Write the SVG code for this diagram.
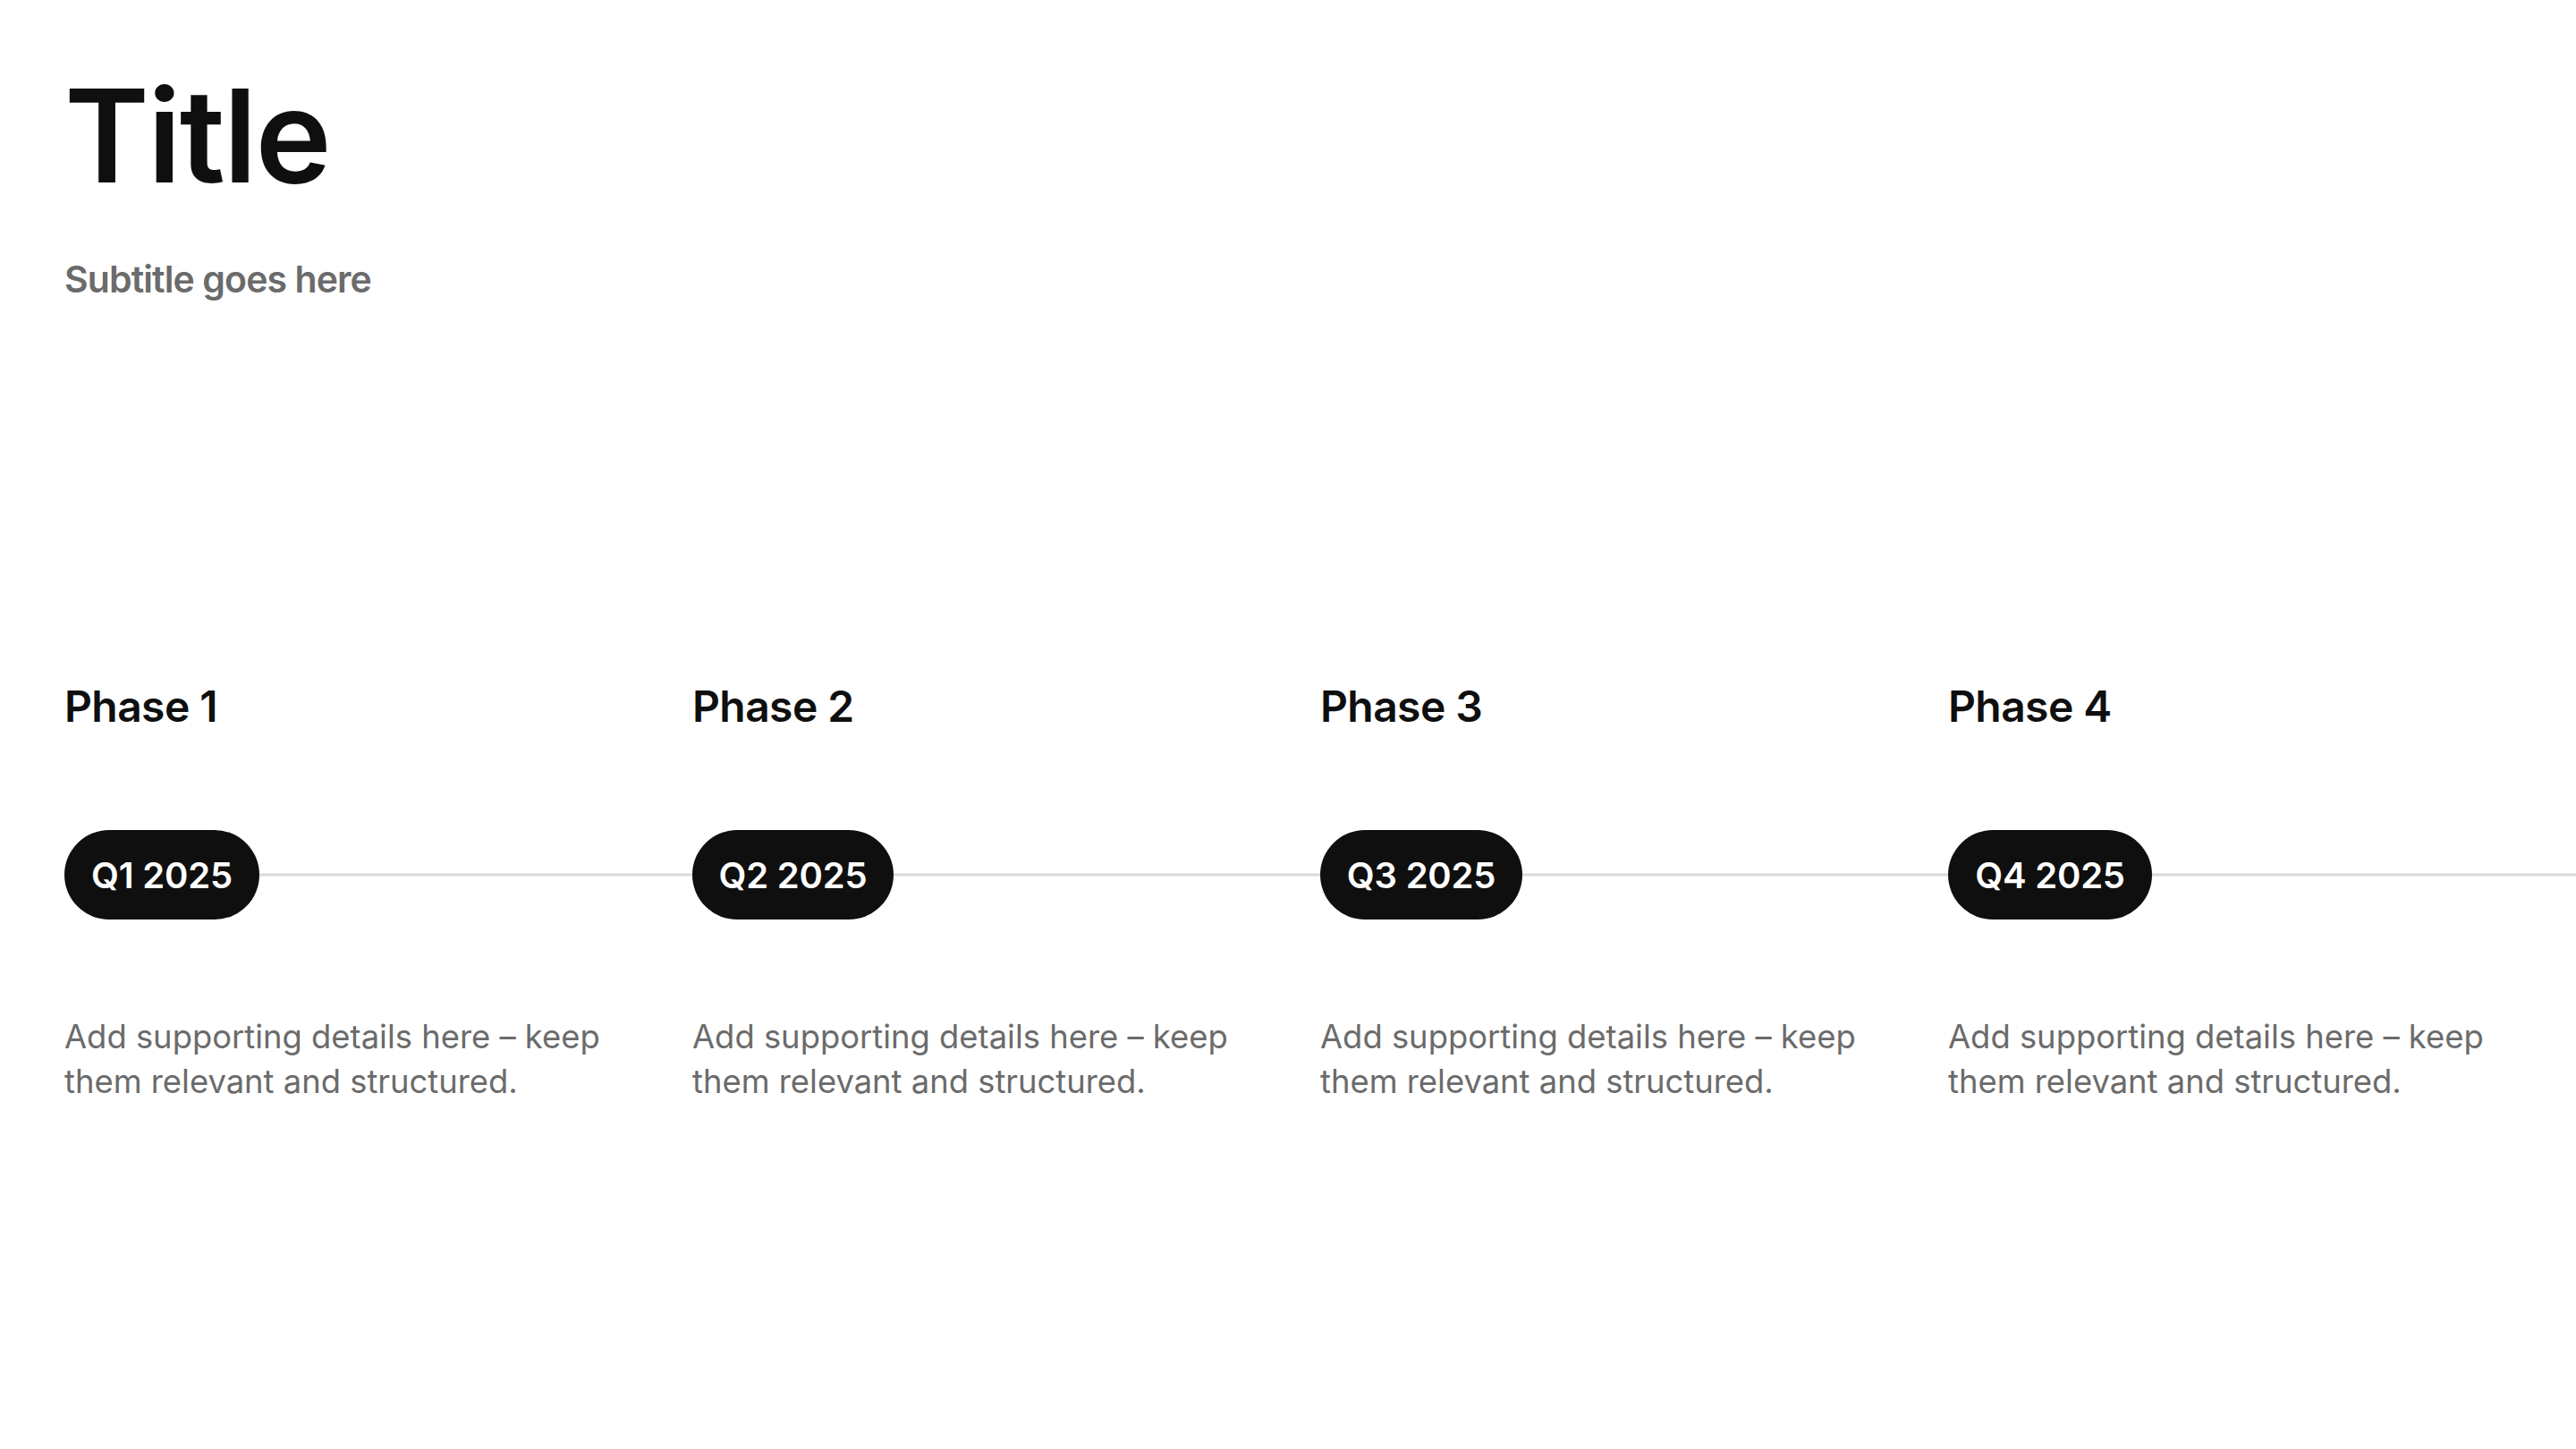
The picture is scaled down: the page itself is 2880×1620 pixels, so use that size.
<svg xmlns="http://www.w3.org/2000/svg" width="2880" height="1620" viewBox="0 0 2880 1620">
<style>
.title{font-family:Inter,"Liberation Sans",sans-serif;font-size:144px;font-weight:600;fill:#0f0f0f;letter-spacing:-2px}
.sub{font-family:Inter,"Liberation Sans",sans-serif;font-size:41px;font-weight:600;fill:#6b6b6b;letter-spacing:-0.9px}
.phase{font-family:Inter,"Liberation Sans",sans-serif;font-size:48px;font-weight:600;fill:#0f0f0f;letter-spacing:-0.6px}
.pill{fill:#0f0f0f}
.pilltxt{font-family:Inter,"Liberation Sans",sans-serif;font-size:40px;font-weight:600;fill:#ffffff;text-anchor:middle;letter-spacing:-0.2px}
.body{font-family:Inter,"Liberation Sans",sans-serif;font-size:36.4px;font-weight:400;fill:#6b6b6b}
.conn{stroke:#d9d9d9;stroke-width:3;fill:none}
</style>
<rect width="2880" height="1620" fill="#ffffff"/>
<g id="header">
<text class="title" x="72" y="204">Title</text>
<text class="sub" x="72" y="327">Subtitle goes here</text>
</g>
<g id="connectors">
<line class="conn" x1="181" y1="978" x2="2880" y2="978"/>
</g>
<g id="phase1">
<text class="phase" x="72" y="807">Phase 1</text>
<rect class="pill" x="72" y="928" width="218" height="100" rx="50"/>
<text class="pilltxt" x="181" y="993">Q1 2025</text>
<text class="body" x="72" y="1172">Add supporting details here – keep</text>
<text class="body" x="72" y="1222">them relevant and structured.</text>
</g>
<g id="phase2">
<text class="phase" x="774" y="807">Phase 2</text>
<rect class="pill" x="774" y="928" width="225" height="100" rx="50"/>
<text class="pilltxt" x="886.5" y="993">Q2 2025</text>
<text class="body" x="774" y="1172">Add supporting details here – keep</text>
<text class="body" x="774" y="1222">them relevant and structured.</text>
</g>
<g id="phase3">
<text class="phase" x="1476" y="807">Phase 3</text>
<rect class="pill" x="1476" y="928" width="226" height="100" rx="50"/>
<text class="pilltxt" x="1589" y="993">Q3 2025</text>
<text class="body" x="1476" y="1172">Add supporting details here – keep</text>
<text class="body" x="1476" y="1222">them relevant and structured.</text>
</g>
<g id="phase4">
<text class="phase" x="2178" y="807">Phase 4</text>
<rect class="pill" x="2178" y="928" width="228" height="100" rx="50"/>
<text class="pilltxt" x="2292" y="993">Q4 2025</text>
<text class="body" x="2178" y="1172">Add supporting details here – keep</text>
<text class="body" x="2178" y="1222">them relevant and structured.</text>
</g>
</svg>
